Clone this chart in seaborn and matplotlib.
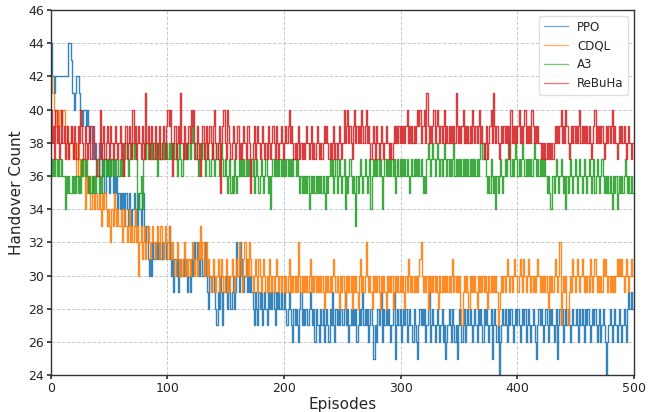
import numpy as np
import pandas as pd
import matplotlib
matplotlib.use("Agg")
import matplotlib.pyplot as plt
import seaborn as sns

series_names = ["PPO", "CDQL", "A3", "ReBuHa"]

ppo = [
44,44,42,42,41,42,42,42,42,42, 42,42,42,42,42,42,44,44,43,41,
41,40,41,42,42,41,40,40,39,40, 40,39,40,39,38,39,38,37,38,38,
37,36,37,38,37,36,37,35,36,37, 36,35,36,37,35,36,35,36,34,35,
34,35,34,35,33,35,34,33,35,34, 33,34,35,33,34,33,35,34,33,35,
35,33,32,33,31,30,31,30,32,31, 32,31,32,31,32,31,32,31,32,32,
31,32,33,31,30,31,29,31,30,31, 29,30,31,30,31,30,31,30,29,30,
29,31,30,31,32,31,32,31,30,31, 31,30,31,32,30,29,28,30,29,30,
30,29,28,27,29,28,30,29,27,29, 30,29,28,30,29,28,29,30,28,29,
32,30,29,32,31,30,29,30,31,29, 30,29,30,29,28,27,29,28,27,29,
28,29,27,28,29,28,27,29,28,29, 28,29,28,27,29,28,29,28,29,28,
28,29,28,27,28,29,28,27,26,28, 27,28,27,26,28,29,27,28,27,28,
28,27,28,29,28,27,28,26,28,27, 27,26,28,27,28,26,27,28,27,26,
28,27,29,27,26,28,27,28,27,28, 28,27,28,29,27,28,26,27,28,27,
28,27,28,26,27,28,27,28,29,27, 28,27,28,26,27,28,27,25,25,27,
26,28,27,28,29,26,28,27,28,27, 28,27,26,27,28,29,25,27,28,27,
28,26,27,28,27,28,26,27,28,27, 27,26,28,27,26,25,27,28,27,28,
27,28,26,27,28,29,26,27,28,27, 26,27,28,27,26,27,28,26,27,25,
26,27,28,27,26,28,27,26,27,25, 27,28,27,26,27,28,26,27,28,27,
28,27,26,27,28,27,26,28,27,28, 27,26,28,27,28,27,26,27,28,25,
27,28,27,26,27,24,26,27,28,27, 28,27,26,28,27,28,27,26,27,28,
27,28,27,26,27,28,27,28,26,27, 28,27,26,27,28,27,26,25,27,28,
27,28,27,26,27,28,27,26,28,27, 28,27,26,27,28,25,27,28,27,28,
26,27,28,27,28,27,26,27,28,27, 27,28,27,26,28,27,28,27,26,28,
27,28,27,26,27,28,27,28,27,26, 27,28,26,27,28,27,26,24,26,27,
28,27,26,27,28,27,26,27,28,27, 26,27,28,27,26,28,29,28,29,28,
]

cdql = [
42,42,41,41,40,39,40,39,40,40, 39,40,40,39,39,38,37,38,39,38,
37,38,37,36,38,37,36,37,36,37, 34,36,35,36,35,34,36,35,34,35,
35,34,35,34,33,35,34,35,34,33, 34,33,32,34,33,35,34,33,34,33,
33,34,32,33,34,33,32,33,34,32, 33,32,33,34,32,33,30,32,33,31,
32,33,31,32,33,32,31,32,33,32, 31,32,33,32,31,33,32,31,32,33,
32,31,33,32,31,32,31,30,31,32, 31,30,31,30,31,32,30,31,30,31,
30,31,32,31,30,31,30,32,31,33, 31,32,30,31,32,30,31,30,29,30,
31,30,29,30,31,29,30,31,30,29, 30,31,29,30,29,30,31,30,29,30,
31,30,32,31,30,29,31,32,30,31, 30,32,31,30,29,30,31,30,29,31,
30,29,30,31,30,29,30,29,31,30, 29,30,29,30,31,30,29,30,29,30,
30,29,30,29,30,31,29,30,29,30, 29,30,29,32,30,29,30,29,30,29,
30,29,30,31,29,30,29,30,29,30, 29,30,29,30,29,28,30,29,30,29,
30,29,30,31,30,29,30,29,28,30, 29,30,29,28,30,29,30,29,30,28,
30,29,30,29,28,30,31,29,30,29, 30,32,30,29,30,29,28,30,29,30,
29,30,29,28,30,29,30,29,28,30, 29,30,29,30,28,29,30,29,30,29,
30,29,30,29,28,30,29,31,30,29, 30,29,30,29,30,29,30,31,32,30,
29,30,29,30,28,30,29,30,29,30, 29,30,29,28,30,29,30,29,30,29,
30,29,30,29,30,31,29,30,29,30, 29,30,28,27,29,30,29,30,29,28,
30,29,30,29,30,29,28,30,29,30, 29,30,29,30,29,28,30,29,30,29,
30,29,30,29,27,28,29,30,29,30, 29,30,31,30,29,30,29,30,31,30,
30,29,30,31,30,29,31,30,29,30, 31,30,29,30,29,30,29,30,31,30,
29,30,29,30,29,30,29,28,30,29, 30,29,30,31,30,29,30,32,27,29,
30,29,30,28,27,29,30,29,31,30, 29,30,31,30,29,30,31,30,29,30,
29,30,29,31,30,29,30,31,30,29, 30,29,30,29,31,30,31,30,29,30,
29,30,29,30,29,30,31,30,31,30, 31,30,29,30,31,30,29,30,31,30,
]

a3 = [
36,37,36,37,36,37,36,37,36,36, 37,36,36,34,36,35,36,35,35,36,
35,36,35,36,35,36,35,37,36,37, 36,37,36,35,36,35,36,35,36,35,
36,37,35,36,35,37,36,37,36,37, 36,37,36,37,36,37,36,37,37,36,
37,36,37,36,37,38,37,36,37,38, 37,38,37,38,37,34,34,35,36,34,
37,38,37,38,37,38,37,38,37,38, 37,38,36,37,38,37,38,37,38,37,
38,37,38,37,38,37,38,37,38,36, 37,38,37,36,37,38,37,38,37,38,
37,38,39,38,37,38,37,36,37,38, 37,38,37,36,37,38,37,36,37,38,
37,36,37,38,37,36,37,38,37,36, 37,36,35,36,37,35,36,35,37,36,
35,36,37,36,37,36,37,36,37,36, 37,36,37,36,37,35,36,37,36,35,
36,37,36,35,36,37,36,35,36,34, 36,37,36,37,36,37,36,37,36,37,
36,37,36,37,36,37,36,37,36,37, 37,36,37,36,35,36,35,36,35,36,
35,36,34,35,36,35,36,35,36,35, 36,35,36,35,36,35,34,36,35,36,
37,36,37,35,36,37,35,36,37,36, 35,36,37,34,36,35,36,37,36,35,
36,35,33,36,35,36,37,36,35,36, 37,36,35,36,37,34,36,37,36,37,
36,37,36,37,36,34,36,37,36,37, 36,37,36,37,36,37,35,36,37,36,
37,36,37,36,37,36,37,36,35,36, 37,36,37,36,37,36,37,36,37,36,
35,36,35,37,38,37,36,37,38,37, 36,37,38,37,36,37,36,37,38,37,
36,37,36,37,36,37,38,36,37,36, 37,36,37,36,37,36,37,36,37,36,
37,36,37,36,37,36,37,36,37,38, 38,37,38,37,36,35,36,35,37,36,
35,36,34,36,35,36,37,36,35,36, 37,36,37,38,37,36,37,36,37,38,
37,36,37,36,37,38,37,36,37,36, 37,36,37,36,37,38,37,36,37,36,
37,36,37,36,37,36,35,36,35,34, 34,36,35,36,37,36,35,36,37,36,
35,36,34,36,35,36,37,36,35,36, 37,36,35,36,37,36,35,36,37,36,
35,36,37,36,35,36,37,35,36,37, 36,35,36,37,36,35,36,35,36,35,
36,35,34,36,35,36,34,35,36,35, 36,35,36,37,36,35,36,35,36,35,
]

rebuha = [
39,40,38,39,37,40,38,39,37,38, 40,38,39,37,38,39,37,38,39,38,
37,39,38,37,39,38,40,39,38,37, 39,38,37,38,39,37,38,39,38,37,
36,36,38,40,37,38,39,37,38,39, 38,37,39,38,37,38,39,38,37,38,
39,37,38,36,38,39,37,38,39,38, 37,40,38,39,37,38,39,38,37,39,
38,37,41,38,39,37,38,39,38,37, 39,38,37,38,39,37,38,39,38,37,
39,40,39,40,38,36,38,39,37,38, 39,38,41,38,37,39,38,37,38,39,
38,40,39,40,38,37,39,38,37,36, 38,39,37,38,39,37,38,39,38,37,
39,40,38,37,38,39,35,38,39,40, 38,37,40,39,38,37,38,39,38,37,
38,39,37,38,37,38,39,38,37,39, 39,38,35,37,38,39,37,38,39,38,
37,38,39,38,37,38,37,39,38,37, 38,39,38,37,39,38,37,38,39,38,
37,38,39,38,39,40,38,39,38,37, 38,37,38,39,37,38,37,38,37,38,
39,38,37,38,39,37,38,37,38,39, 38,37,38,37,38,39,38,39,38,37,
38,37,38,39,37,38,37,38,39,38, 37,38,40,38,39,40,38,39,38,37,
39,40,38,39,38,39,38,40,39,38, 39,40,38,39,38,37,38,39,38,37,
39,38,37,38,39,38,37,38,39,38, 38,37,38,37,38,39,38,39,38,39,
38,39,38,39,38,39,40,38,39,38, 39,38,39,38,39,40,39,40,38,39,
39,40,38,41,39,38,39,38,39,40, 38,39,40,39,38,39,38,39,40,38,
39,38,39,38,39,38,39,38,41,39, 38,39,38,39,40,38,39,38,39,38,
39,38,40,39,38,39,38,39,40,38, 39,38,37,38,39,37,38,39,40,38,
41,39,38,39,38,37,38,39,38,39, 38,39,38,39,37,40,38,39,38,39,
38,39,40,38,39,38,39,40,38,39, 38,39,38,40,39,38,39,38,39,38,
38,37,38,37,38,37,38,37,38,37, 38,37,38,39,38,39,38,39,40,38,
39,38,40,39,38,37,38,39,38,39, 38,39,38,39,40,38,39,38,39,38,
39,38,39,38,37,38,39,40,38,39, 38,39,38,39,38,37,38,39,38,39,
38,39,40,38,39,38,37,38,39,38, 39,38,39,38,37,38,39,38,37,38,
]

episodes = np.arange(len(ppo))
frames = []
for name, vals in zip(series_names, [ppo, cdql, a3, rebuha]):
    frames.append(pd.DataFrame({"Episodes": episodes, "Handover Count": vals, "Method": name}))
df = pd.concat(frames, ignore_index=True)

sns.set_theme(style="white")
plt.rcParams['font.family'] = ['DejaVu Sans']

fig = plt.figure(figsize=(6.51, 4.12), dpi=100)
ax = fig.add_axes([0.078, 0.089, 0.896, 0.887])
palette = {"PPO": "#1f77b4", "CDQL": "#ff7f0e", "A3": "#2ca02c", "ReBuHa": "#d62728"}
sns.lineplot(data=df, x="Episodes", y="Handover Count", hue="Method",
             hue_order=series_names, palette=palette, estimator=None,
             drawstyle="steps-pre", linewidth=1.0, alpha=0.9, ax=ax, legend=False)

ax.set_xlim(0, 500)
ax.set_ylim(24, 46)
ax.set_yticks(np.arange(24, 47, 2))
ax.set_xticks(np.arange(0, 501, 100))
ax.grid(True, linestyle="--", color="#cccccc", linewidth=0.7)
ax.tick_params(axis="both", labelsize=9, length=3, pad=2, color="#333333", bottom=True, left=True)
ax.set_xlabel("Episodes", fontsize=11, labelpad=1)
ax.set_ylabel("Handover Count", fontsize=11, labelpad=3)
for s in ax.spines.values():
    s.set_color("#333333")
    s.set_linewidth(1.0)

from matplotlib.lines import Line2D
handles = [Line2D([0], [0], color=palette[n], lw=1.0, alpha=0.6) for n in series_names]
ax.legend(handles, series_names, loc="upper right", fontsize=8.5, frameon=True,
          framealpha=0.9, edgecolor="#dddddd", fancybox=True)

fig.savefig("out.png", dpi=100)
